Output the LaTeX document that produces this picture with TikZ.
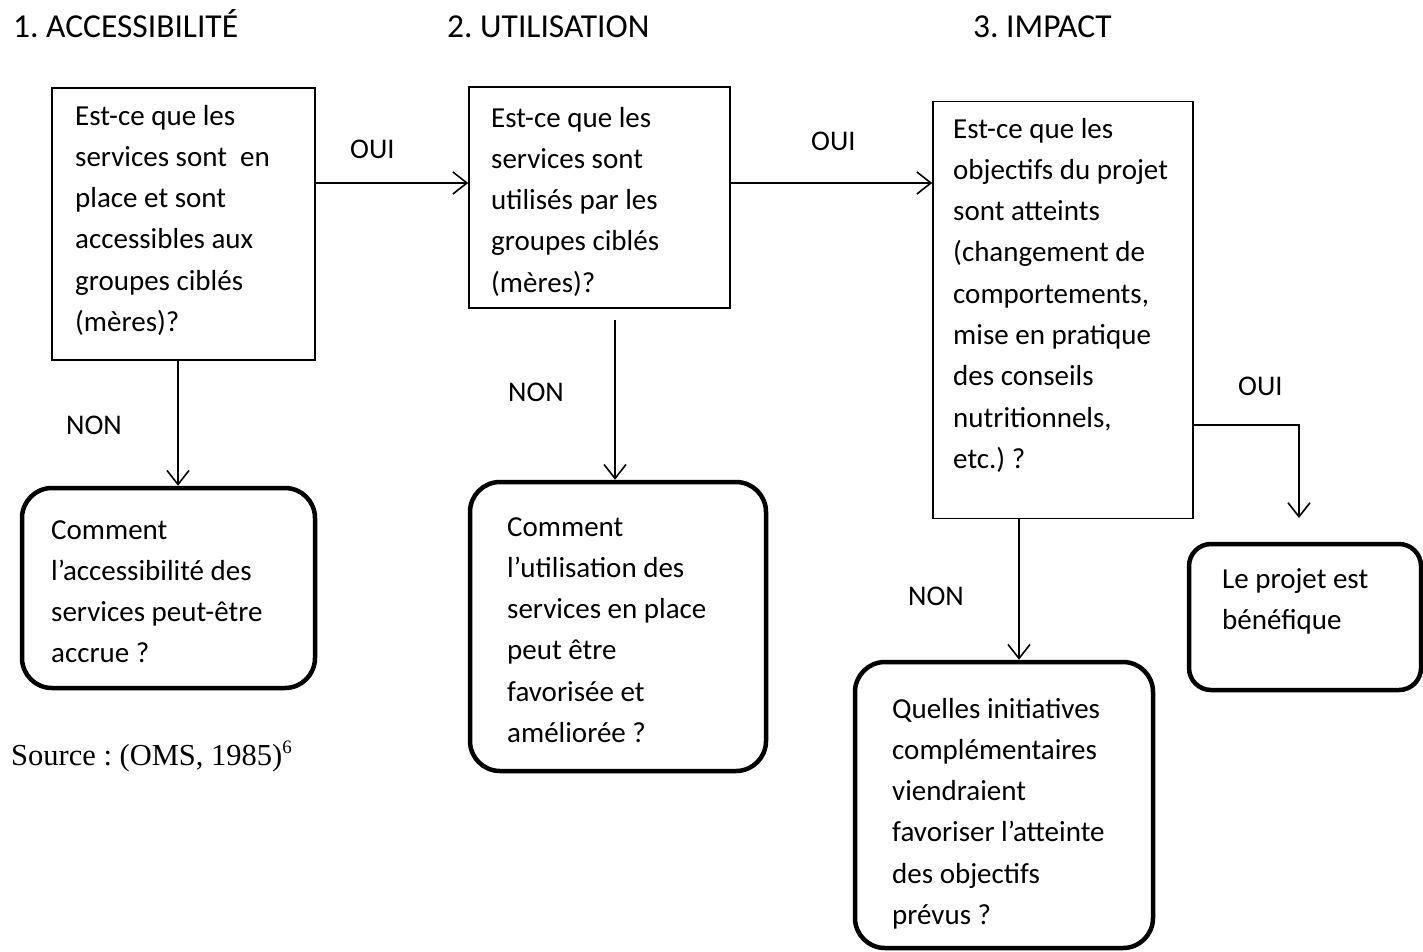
\documentclass[tikz,border=0pt]{standalone}
\usepackage{fontspec}
\setmainfont{Carlito}
\newfontfamily\srcfont{Liberation Serif}
\usetikzlibrary{arrows.meta}
\frenchspacing
\tikzset{
  rectbox/.style={draw, line width=1.6pt, rectangle, inner sep=0pt},
  roundbox/.style={draw, line width=4.5pt, rectangle, rounded corners=30pt, inner sep=0pt},
  txt/.style={anchor=base west, align=left, inner sep=0pt, font=\fontsize{29}{41.3}\selectfont},
  lbl/.style={anchor=base west, inner sep=0pt, font=\fontsize{28.5}{34}\selectfont},
  hdr/.style={anchor=base west, inner sep=0pt, font=\fontsize{33.5}{40}\selectfont},
  arr/.style={line width=1.6pt, -{Straight Barb[length=14pt,width=22pt,line width=1.6pt]}},
}
\begin{document}
\begin{tikzpicture}[x=1pt,y=-1pt]
\useasboundingbox (0,0) rectangle (1423,951);

% headers
\node[hdr] (h1) at (13,37) {1. ACCESSIBILITÉ};
\node[hdr] (h2) at (447,37) {2. UTILISATION};
\node[hdr] (h3) at (973,37) {3. IMPACT};

% question boxes
\node[rectbox, minimum width=263pt, minimum height=272pt] (b1) at (183.5,224) {};
\node[rectbox, minimum width=261pt, minimum height=221pt] (b2) at (599.5,197.5) {};
\node[rectbox, minimum width=260pt, minimum height=417pt] (b3) at (1063,310) {};

% multi-line texts: anchored at the baseline of their last line
\node[txt] (t1) at (75,331.5) {Est-ce que les\\services sont\ \ en\\place et sont\\accessibles aux\\groupes ciblés\\(mères)?};
\node[txt] (t2) at (491,292.2) {Est-ce que les\\services sont\\utilisés par les\\groupes ciblés\\(mères)?};
\node[txt] (t3) at (953,468.4) {Est-ce que les\\objectifs du projet\\sont atteints\\(changement de\\comportements,\\mise en pratique\\des conseils\\nutritionnels,\\etc.) ?};

% answer boxes
\node[roundbox, minimum width=293pt, minimum height=200pt] (r1) at (168.5,588) {};
\node[roundbox, minimum width=296pt, minimum height=289pt] (r2) at (618,626.5) {};
\node[roundbox, minimum width=298pt, minimum height=286pt] (r3) at (1004,805) {};
\node[roundbox, rounded corners=22pt, minimum width=232pt, minimum height=146pt] (r4) at (1305,617) {};

\node[txt] (u1) at (51,662.9) {Comment\\l’accessibilité des\\services peut-être\\accrue ?};
\node[txt] (u2) at (507,742.5) {Comment\\l’utilisation des\\services en place\\peut être\\favorisée et\\améliorée ?};
\node[txt] (u3) at (892,924.5) {Quelles initiatives\\complémentaires\\viendraient\\favoriser l’atteinte\\des objectifs\\prévus ?};
\node[txt] (u4) at (1222,629.3) {Le projet est\\bénéfique};

% connectors
\coordinate (hy) at (0,183);
\coordinate (a1) at (178,0);
\coordinate (a2s) at (615,320);
\coordinate (a3) at (1019,0);
\coordinate (c3) at (1193,335);
\coordinate (c3b) at (1193,425);
\coordinate (c3e) at (1299,518);

\draw[arr] (b1.east |- hy) -- (b2.west |- hy);
\draw[arr] (b2.east |- hy) -- (b3.west |- hy);
\draw[arr] (b1.south -| a1) -- (r1.north -| a1);
\draw[arr] (a2s) -- (r2.north -| a2s);
\draw[arr] (b3.south -| a3) -- (r3.north -| a3);
\draw[line width=1.6pt] (c3) -- (c3b);
\draw[arr] (c3b) -| (c3e);

% labels
\node[lbl] (l1) at (350,158) {OUI};
\node[lbl] (l2) at (811,150) {OUI};
\node[lbl] (l3) at (66,434) {NON};
\node[lbl] (l4) at (508,401) {NON};
\node[lbl] (l5) at (908,605) {NON};
\node[lbl] (l6) at (1238,395) {OUI};

% source
\node[anchor=base west, inner sep=0pt, font=\srcfont\fontsize{30.5}{36}\selectfont] (src) at (11,765) {Source : (OMS, 1985)\raisebox{12pt}{\fontsize{19}{20}\selectfont 6}};
\end{tikzpicture}
\end{document}
